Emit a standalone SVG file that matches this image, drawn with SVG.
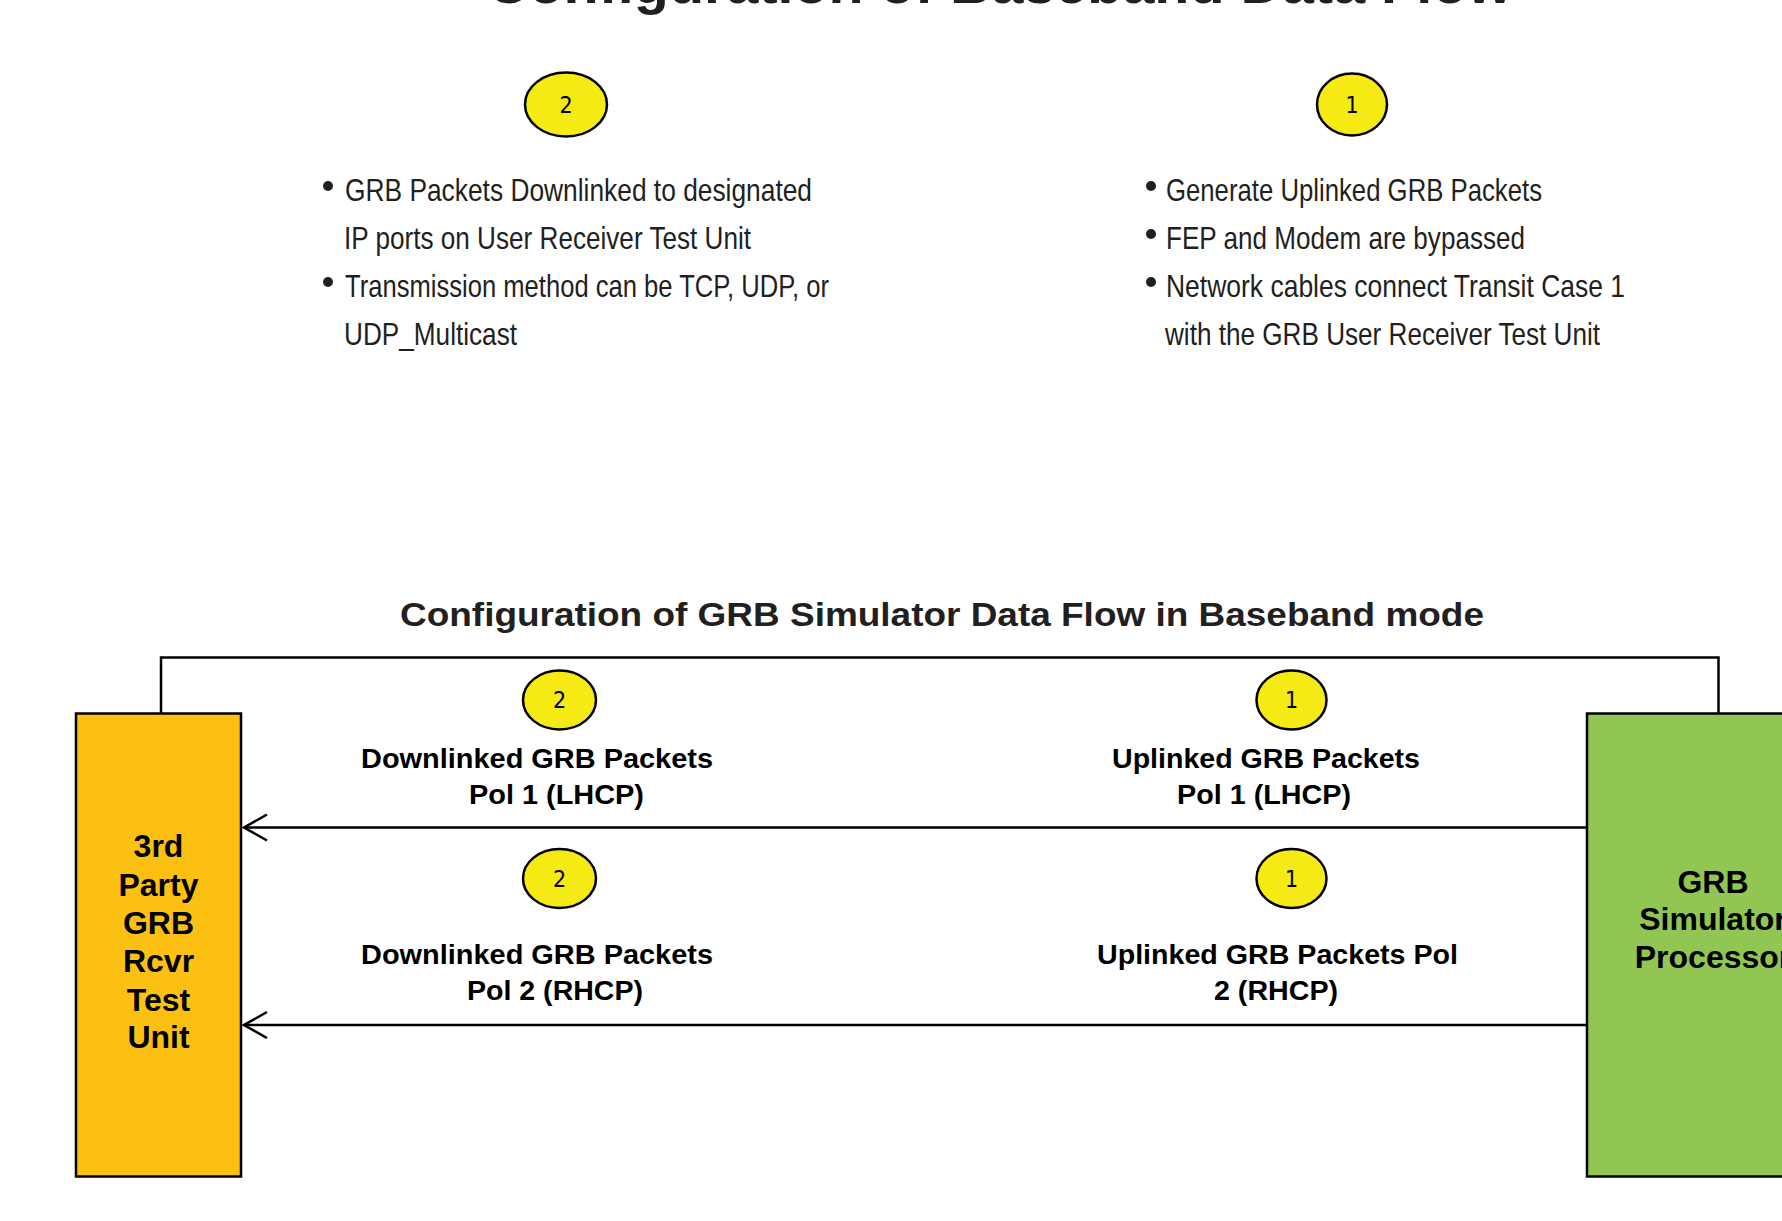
<svg xmlns="http://www.w3.org/2000/svg" width="1782" height="1221" viewBox="0 0 1782 1221">
  <defs>
    <style>
      .title { font-family: "Liberation Sans", Arial, sans-serif; font-weight: bold; fill: #231F20; }
      .note { font-family: "Liberation Sans", Arial, sans-serif; font-size: 32px; fill: #231F20; }
      .label { font-family: "Liberation Sans", Arial, sans-serif; font-weight: bold; font-size: 27px; fill: #000; }
      .boxtext { font-family: "Liberation Sans", Arial, sans-serif; font-weight: bold; font-size: 32px; fill: #000; text-anchor: middle; }
      .badge { fill: #F5EA14; stroke: #000; stroke-width: 2.5; }
      .badgenum { font-family: "DejaVu Sans Condensed", "DejaVu Sans", sans-serif; font-size: 23px; fill: #000; text-anchor: middle; }
      .wire { fill: none; stroke: #000; stroke-width: 2.5; }
      .bullet { fill: #231F20; }
    </style>
    <!-- open chevron head; tip sits at the end point of the line -->
    <marker id="open-arrow" markerUnits="userSpaceOnUse" markerWidth="30" markerHeight="32" refX="26" refY="14" orient="auto" viewBox="0 0 30 32">
      <path d="M3 1 L26 14 L3 27" fill="none" stroke="#000" stroke-width="2.5"/>
    </marker>
  </defs>

  <rect width="1782" height="1221" fill="#fff"/>

  <!-- page heading (partly above the top edge) -->
  <text class="title" x="487" y="3" font-size="56" textLength="1025" lengthAdjust="spacingAndGlyphs">Configuration of Baseband Data Flow</text>

  <!-- step 2 notes -->
  <g id="step2-notes">
    <ellipse class="badge" cx="566" cy="104.5" rx="41" ry="32"/>
    <text class="badgenum" x="566" y="113">2</text>
    <circle class="bullet" cx="328" cy="186" r="5"/>
    <text class="note" x="345" y="200.5" textLength="467" lengthAdjust="spacingAndGlyphs">GRB Packets Downlinked to designated</text>
    <text class="note" x="344" y="248.5" textLength="407" lengthAdjust="spacingAndGlyphs">IP ports on User Receiver Test Unit</text>
    <circle class="bullet" cx="328" cy="282" r="5"/>
    <text class="note" x="345" y="296.5" textLength="484" lengthAdjust="spacingAndGlyphs">Transmission method can be TCP, UDP, or</text>
    <text class="note" x="344" y="344.5" textLength="173" lengthAdjust="spacingAndGlyphs">UDP_Multicast</text>
  </g>

  <!-- step 1 notes -->
  <g id="step1-notes">
    <ellipse class="badge" cx="1352" cy="104.5" rx="35" ry="31"/>
    <text class="badgenum" x="1352" y="113">1</text>
    <circle class="bullet" cx="1151" cy="186" r="5"/>
    <text class="note" x="1166" y="200.5" textLength="376" lengthAdjust="spacingAndGlyphs">Generate Uplinked GRB Packets</text>
    <circle class="bullet" cx="1151" cy="234" r="5"/>
    <text class="note" x="1166" y="248.5" textLength="359" lengthAdjust="spacingAndGlyphs">FEP and Modem are bypassed</text>
    <circle class="bullet" cx="1151" cy="282" r="5"/>
    <text class="note" x="1166" y="296.5" textLength="459" lengthAdjust="spacingAndGlyphs">Network cables connect Transit Case 1</text>
    <text class="note" x="1165" y="344.5" textLength="435" lengthAdjust="spacingAndGlyphs">with the GRB User Receiver Test Unit</text>
  </g>

  <!-- section heading -->
  <text class="title" x="400" y="626" font-size="34" textLength="1084" lengthAdjust="spacingAndGlyphs">Configuration of GRB Simulator Data Flow in Baseband mode</text>

  <!-- receiver test unit -->
  <g id="rcvr-test-unit">
    <rect x="76" y="713.5" width="165" height="463" fill="#FCC012" stroke="#000" stroke-width="2.5"/>
    <text class="boxtext" x="158.5" y="857">3rd</text>
    <text class="boxtext" x="158.5" y="896">Party</text>
    <text class="boxtext" x="158.5" y="934">GRB</text>
    <text class="boxtext" x="158.5" y="972">Rcvr</text>
    <text class="boxtext" x="158.5" y="1011">Test</text>
    <text class="boxtext" x="158.5" y="1048">Unit</text>
  </g>

  <!-- simulator processor -->
  <g id="simulator-processor">
    <rect x="1587" y="713.5" width="210" height="463" fill="#92C653" stroke="#000" stroke-width="2.5"/>
    <text class="boxtext" x="1713" y="893" font-size="31">GRB</text>
    <text class="boxtext" x="1713" y="930" font-size="31">Simulator</text>
    <text class="boxtext" x="1713" y="968" font-size="31">Processor</text>
  </g>

  <!-- connectors -->
  <g id="connectors">
    <path id="link-loop" class="wire" d="M161 714 V657.5 H1718.5 V714"/>
    <line id="flow-pol1" class="wire" x1="1586" y1="827.5" x2="244" y2="827.5" marker-end="url(#open-arrow)"/>
    <line id="flow-pol2" class="wire" x1="1586" y1="1025" x2="244" y2="1025" marker-end="url(#open-arrow)"/>
  </g>

  <!-- flow labels, polarization 1 -->
  <g id="label-down-pol1">
    <ellipse class="badge" cx="559.5" cy="700" rx="36.5" ry="29.5"/>
    <text class="badgenum" x="559.5" y="708">2</text>
    <text class="label" x="361" y="768" textLength="352" lengthAdjust="spacingAndGlyphs">Downlinked GRB Packets</text>
    <text class="label" x="469" y="804" textLength="175" lengthAdjust="spacingAndGlyphs">Pol 1 (LHCP)</text>
  </g>
  <g id="label-up-pol1">
    <ellipse class="badge" cx="1291.5" cy="700" rx="35" ry="29.5"/>
    <text class="badgenum" x="1291.5" y="708">1</text>
    <text class="label" x="1112" y="768" textLength="308" lengthAdjust="spacingAndGlyphs">Uplinked GRB Packets</text>
    <text class="label" x="1177" y="804" textLength="174" lengthAdjust="spacingAndGlyphs">Pol 1 (LHCP)</text>
  </g>

  <!-- flow labels, polarization 2 -->
  <g id="label-down-pol2">
    <ellipse class="badge" cx="559.5" cy="878.5" rx="36.5" ry="29.5"/>
    <text class="badgenum" x="559.5" y="886.5">2</text>
    <text class="label" x="361" y="964" textLength="352" lengthAdjust="spacingAndGlyphs">Downlinked GRB Packets</text>
    <text class="label" x="467" y="1000" textLength="176" lengthAdjust="spacingAndGlyphs">Pol 2 (RHCP)</text>
  </g>
  <g id="label-up-pol2">
    <ellipse class="badge" cx="1291.5" cy="878.5" rx="35" ry="29.5"/>
    <text class="badgenum" x="1291.5" y="886.5">1</text>
    <text class="label" x="1097" y="964" textLength="361" lengthAdjust="spacingAndGlyphs">Uplinked GRB Packets Pol</text>
    <text class="label" x="1214" y="1000" textLength="124" lengthAdjust="spacingAndGlyphs">2 (RHCP)</text>
  </g>
</svg>
